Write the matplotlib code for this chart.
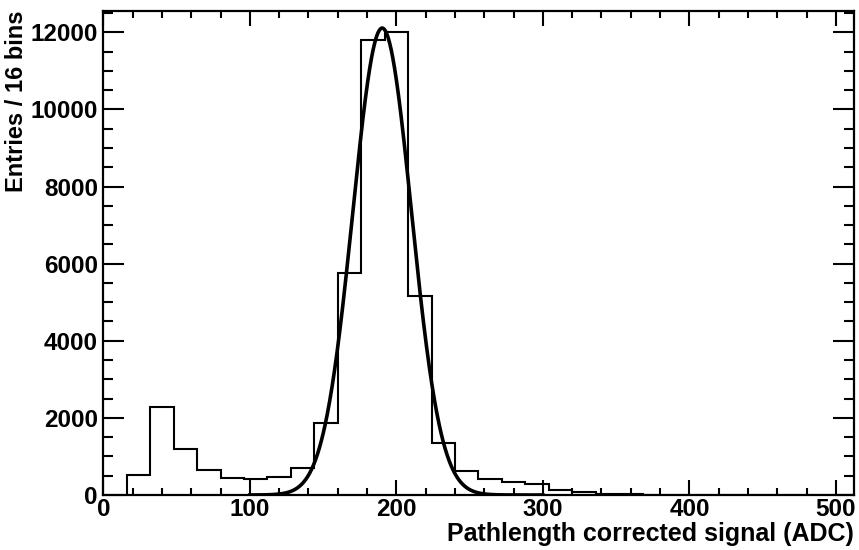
from matplotlib import pyplot as plt
from matplotlib.ticker import MultipleLocator
import numpy as np

# Histogram of pathlength corrected signal, 16 ADC wide bins starting at 16
bin_start = 16
bin_width = 16
entries = [519, 2290, 1185, 640, 449, 423, 475, 700, 1860, 5750,
           11800, 12000, 5170, 1340, 622, 415, 345, 277, 130, 70,
           35, 20, 12, 8, 6, 4, 3, 2, 2, 1, 1]

# Gaussian fit drawn over the peak
fit_amp = 12110
fit_mean = 190.3
fit_sigma = 20.0
fit_range = (100, 300)

plt.rcParams['font.family'] = ['Liberation Sans', 'DejaVu Sans']
plt.rcParams['font.weight'] = 'bold'

fig = plt.figure(figsize=(8.59, 5.5), dpi=100)
ax = fig.add_axes([0.1203, 0.1, 0.8733, 0.8805])

edges = bin_start + bin_width * np.arange(len(entries) + 1)
ax.stairs(entries, edges, color='black', lw=1.5, baseline=0)

xf = np.linspace(fit_range[0], fit_range[1], 600)
yf = fit_amp * np.exp(-0.5 * ((xf - fit_mean) / fit_sigma) ** 2)
ax.plot(xf, yf, color='black', lw=2.6)

ax.set_xlim(0, 512)
ax.set_ylim(0, 12560)

ax.xaxis.set_major_locator(MultipleLocator(100))
ax.xaxis.set_minor_locator(MultipleLocator(20))
ax.yaxis.set_major_locator(MultipleLocator(2000))
ax.yaxis.set_minor_locator(MultipleLocator(500))

ax.tick_params(which='both', direction='in', top=True, right=True, width=1.5,
               labelsize=17.5, colors='black')
ax.tick_params(axis='x', which='major', length=11, pad=2)
ax.tick_params(axis='x', which='minor', length=5)
ax.tick_params(axis='y', which='major', length=15, pad=4)
ax.tick_params(axis='y', which='minor', length=7)
for lab in ax.get_xticklabels() + ax.get_yticklabels():
    lab.set_fontweight('bold')

for sp in ax.spines.values():
    sp.set_linewidth(1.6)

ax.set_xlabel('Pathlength corrected signal (ADC)', fontsize=18, fontweight='bold',
              loc='right', labelpad=1)
ax.set_ylabel('Entries / 16 bins', fontsize=17, fontweight='bold',
              loc='top', labelpad=2)

plt.savefig('out.png', dpi=100)
